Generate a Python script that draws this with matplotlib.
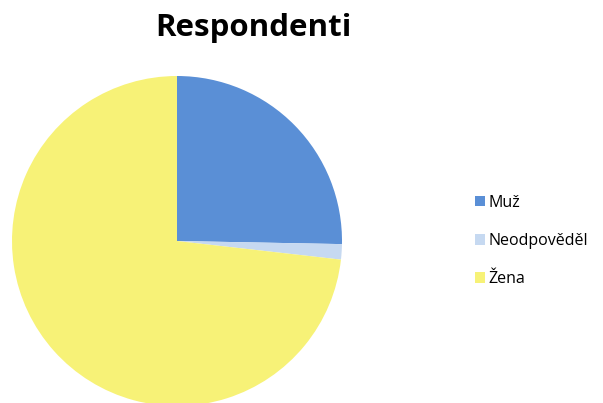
import matplotlib
matplotlib.use("Agg")
import matplotlib.pyplot as plt

labels = ["Muž", "Neodpověděl", "Žena"]
values = [25.3, 1.5, 73.2]
colors = ["#5A8FD6", "#C6D9F1", "#F7F277"]

fig = plt.figure(figsize=(6.03, 4.03), dpi=100)
fig.patch.set_facecolor("white")

W, H = 603, 403
cx, cy, r = 177, 241, 165
ax = fig.add_axes([(cx - r) / W, (H - cy - r) / H, 2 * r / W, 2 * r / H])
wedges, _ = ax.pie(values, colors=colors, startangle=90, counterclock=False,
                   radius=1, wedgeprops=dict(linewidth=0))
ax.set_xlim(-1, 1)
ax.set_ylim(-1, 1)
ax.set_aspect("equal")
ax.axis("off")

fig.text(253 / W, 1 - 28 / H, "Respondenti", ha="center", va="center",
         fontsize=22.5, fontweight="bold", family="Open Sans")

fig.legend(wedges, labels, loc="center left", bbox_to_anchor=(475 / W, 1 - 241 / H),
           frameon=False, borderpad=0, borderaxespad=0,
           handlelength=0.65, handleheight=0.65, handletextpad=0.2,
           labelspacing=1.4, prop=dict(family="Open Sans", size=11.5))

fig.savefig("out.png", dpi=100)
